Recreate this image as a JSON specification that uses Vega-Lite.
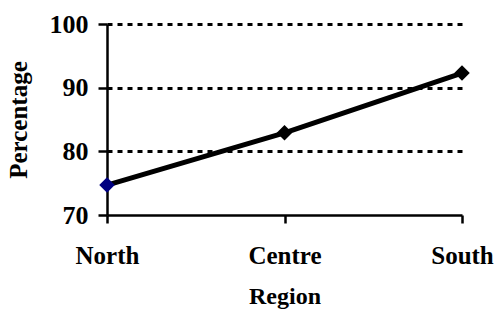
{
  "$schema": "https://vega.github.io/schema/vega-lite/v6.json",
  "autosize": "none",
  "width": 355,
  "height": 191,
  "padding": {"left": 107, "top": 24, "right": 37, "bottom": 103},
  "background": "white",
  "config": {
    "view": {"stroke": null},
    "font": "Liberation Serif"
  },
  "data": {
    "values": [
      {"Region": "North", "Percentage": 74.7, "first": "yes"},
      {"Region": "Centre", "Percentage": 82.9, "first": "no"},
      {"Region": "South", "Percentage": 92.3, "first": "no"}
    ]
  },
  "encoding": {
    "x": {
      "field": "Region",
      "type": "ordinal",
      "sort": ["North", "Centre", "South"],
      "scale": {"type": "point", "padding": 0},
      "axis": {
        "title": "Region",
        "titleFont": "Liberation Serif",
        "titleFontSize": 24,
        "titleFontWeight": "bold",
        "titleColor": "black",
        "titlePadding": 16,
        "labelFont": "Liberation Serif",
        "labelFontSize": 25,
        "labelFontWeight": "bold",
        "labelColor": "black",
        "labelAngle": 0,
        "labelPadding": 20,
        "labelBaseline": "top",
        "domainColor": "black",
        "domainWidth": 2.5,
        "tickColor": "black",
        "tickWidth": 2.5,
        "tickSize": 8,
        "grid": false
      }
    },
    "y": {
      "field": "Percentage",
      "type": "quantitative",
      "scale": {"domain": [70, 100], "nice": false, "zero": false},
      "axis": {
        "title": "Percentage",
        "titleFont": "Liberation Serif",
        "titleFontSize": 25,
        "titleFontWeight": "bold",
        "titleColor": "black",
        "titlePadding": 18,
        "values": [70, 80, 90, 100],
        "labelFont": "Liberation Serif",
        "labelFontSize": 26,
        "labelFontWeight": "bold",
        "labelColor": "black",
        "labelPadding": 10,
        "domainColor": "black",
        "domainWidth": 2.5,
        "tickColor": "black",
        "tickWidth": 2.5,
        "tickSize": 9,
        "grid": true,
        "gridColor": "black",
        "gridWidth": 3,
        "gridDash": [5, 5],
        "gridOpacity": {"condition": {"test": "datum.value == 70", "value": 0}, "value": 1}
      }
    }
  },
  "layer": [
    {
      "mark": {"type": "line", "color": "black", "strokeWidth": 5}
    },
    {
      "mark": {"type": "point", "shape": "diamond", "filled": true, "size": 240, "opacity": 1},
      "encoding": {
        "color": {
          "field": "first",
          "type": "nominal",
          "scale": {"domain": ["yes", "no"], "range": ["#000080", "black"]},
          "legend": null
        }
      }
    }
  ]
}
